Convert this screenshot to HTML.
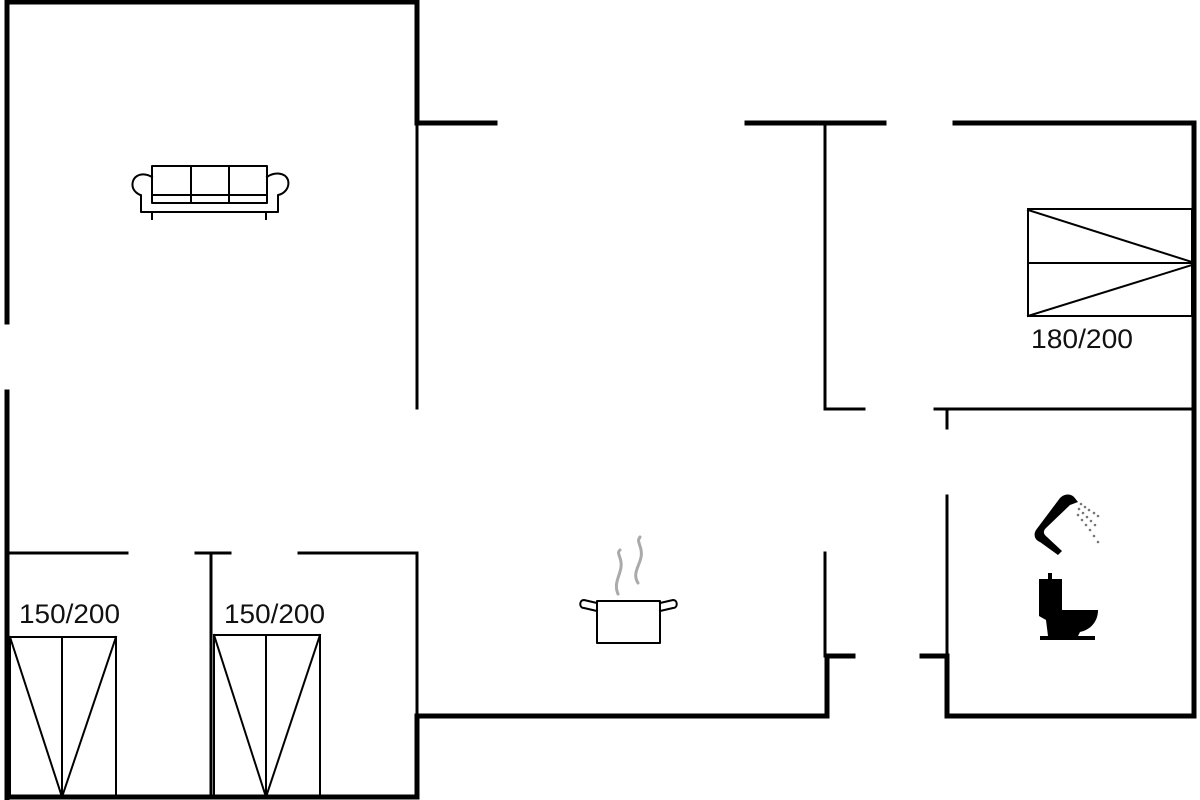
<!DOCTYPE html>
<html><head><style>html,body{margin:0;padding:0;background:#fff;}svg{display:block}</style></head>
<body>
<svg width="1200" height="800" viewBox="0 0 1200 800" xmlns="http://www.w3.org/2000/svg">
<g stroke="#000" fill="none" stroke-linecap="square">
<g stroke-width="5">
<line x1="7" y1="2" x2="7" y2="322"/>
<line x1="7" y1="392" x2="7" y2="798"/>
<line x1="7" y1="2" x2="417" y2="2"/>
<line x1="417" y1="2" x2="417" y2="123"/>
<line x1="417" y1="123" x2="495" y2="123"/>
<line x1="747" y1="123" x2="884" y2="123"/>
<line x1="955" y1="123" x2="1194" y2="123"/>
<line x1="1194" y1="123" x2="1194" y2="716"/>
<line x1="947" y1="716" x2="1194" y2="716"/>
<line x1="947" y1="656" x2="947" y2="716"/>
<line x1="922" y1="656" x2="947" y2="656"/>
<line x1="827" y1="656" x2="827" y2="716"/>
<line x1="827" y1="656" x2="853" y2="656"/>
<line x1="417" y1="716" x2="827" y2="716"/>
<line x1="7" y1="797" x2="417" y2="797"/>
<line x1="417" y1="716" x2="417" y2="797"/>
</g>
<g stroke-width="3">
<line x1="417" y1="123" x2="417" y2="408"/>
<line x1="825" y1="125" x2="825" y2="409"/>
<line x1="825" y1="409" x2="864" y2="409"/>
<line x1="935" y1="409" x2="1194" y2="409"/>
<line x1="947" y1="409" x2="947" y2="428"/>
<line x1="947" y1="496" x2="947" y2="656"/>
<line x1="825" y1="553" x2="825" y2="656"/>
<line x1="417" y1="553" x2="417" y2="716"/>
<line x1="7" y1="553" x2="127" y2="553"/>
<line x1="196" y1="553" x2="230" y2="553"/>
<line x1="299" y1="553" x2="417" y2="553"/>
<line x1="211" y1="553" x2="211" y2="797"/>
</g>
<g stroke-width="2">
<rect x="10" y="637" width="106" height="160"/>
<line x1="62" y1="637" x2="62" y2="797"/>
<line x1="10" y1="637" x2="62" y2="797"/>
<line x1="116" y1="637" x2="62" y2="797"/>
<rect x="214" y="635" width="106" height="162"/>
<line x1="266" y1="635" x2="266" y2="797"/>
<line x1="214" y1="635" x2="266" y2="797"/>
<line x1="320" y1="635" x2="266" y2="797"/>
<rect x="1028" y="209" width="164" height="107"/>
<line x1="1028" y1="263" x2="1192" y2="263"/>
<line x1="1028" y1="210" x2="1192" y2="262"/>
<line x1="1028" y1="316" x2="1192" y2="265"/>
</g>
<g stroke-width="2" stroke-linejoin="round">
<rect x="152" y="166" width="115" height="37"/>
<line x1="191" y1="166" x2="191" y2="203"/>
<line x1="229" y1="166" x2="229" y2="203"/>
<line x1="152" y1="195" x2="267" y2="195"/>
<path d="M152 177 C140 170 130 178 133 188 C135 193 140 195 141 195 L141 212 L278 212 L278 195 C284 194 290 188 288 180 C285 172 274 172 267 177"/>
<line x1="152" y1="212" x2="152" y2="219"/>
<line x1="266" y1="212" x2="266" y2="219"/>
</g>
<g stroke-width="2" stroke-linejoin="round">
<path d="M597 601 L597 643 L660 643 L660 601 Z"/>
<path d="M597 603 L584 600 C579 600 579 608 584 608 L597 611"/>
<path d="M660 603 L673 600 C678 600 678 608 673 608 L660 611"/>
</g>
<g stroke="#aaa" stroke-width="3" stroke-linecap="round">
<path d="M618 594 C612 580 625 572 620 558 C618 552 618 552 620 550"/>
<path d="M638 583 C630 570 646 562 640 546 C638 540 638 540 640 537"/>
</g>
</g>
<g fill="#000">
<path d="M1074 497 C1070 493 1064 494 1060 498 L1036 530 C1033 535 1035 540 1040 542 L1058 555 L1062 551 L1047 537 C1043 534 1043 531 1046 528 L1070 505 L1078 502 Z"/>
</g>
<g fill="#777">
<circle cx="1081" cy="504" r="1.3"/><circle cx="1085" cy="507" r="1.3"/><circle cx="1089" cy="510" r="1.3"/><circle cx="1094" cy="513" r="1.3"/><circle cx="1098" cy="516" r="1.3"/>
<circle cx="1079" cy="509" r="1.3"/><circle cx="1083" cy="513" r="1.3"/><circle cx="1087" cy="517" r="1.3"/><circle cx="1091" cy="521" r="1.3"/><circle cx="1095" cy="525" r="1.3"/>
<circle cx="1078" cy="515" r="1.3"/><circle cx="1082" cy="520" r="1.3"/><circle cx="1086" cy="525" r="1.3"/><circle cx="1090" cy="530" r="1.3"/><circle cx="1094" cy="536" r="1.3"/><circle cx="1098" cy="542" r="1.3"/>
</g>
<g fill="#000">
<rect x="1048" y="573" width="4" height="6"/>
<path d="M1039 579 L1062 579 L1062 610 L1098 610 C1098 622 1090 630 1080 632 L1078 636 L1048 636 L1046 620 L1039 616 Z"/>
<rect x="1040" y="636" width="55" height="4"/>
</g>
<g font-family="Liberation Sans, sans-serif" fill="#111">
<text x="1031" y="348" font-size="27" textLength="102" lengthAdjust="spacingAndGlyphs">180/200</text>
<text x="19" y="623" font-size="27" textLength="101" lengthAdjust="spacingAndGlyphs">150/200</text>
<text x="224" y="623" font-size="27" textLength="101" lengthAdjust="spacingAndGlyphs">150/200</text>
</g>
</svg>
</body></html>
